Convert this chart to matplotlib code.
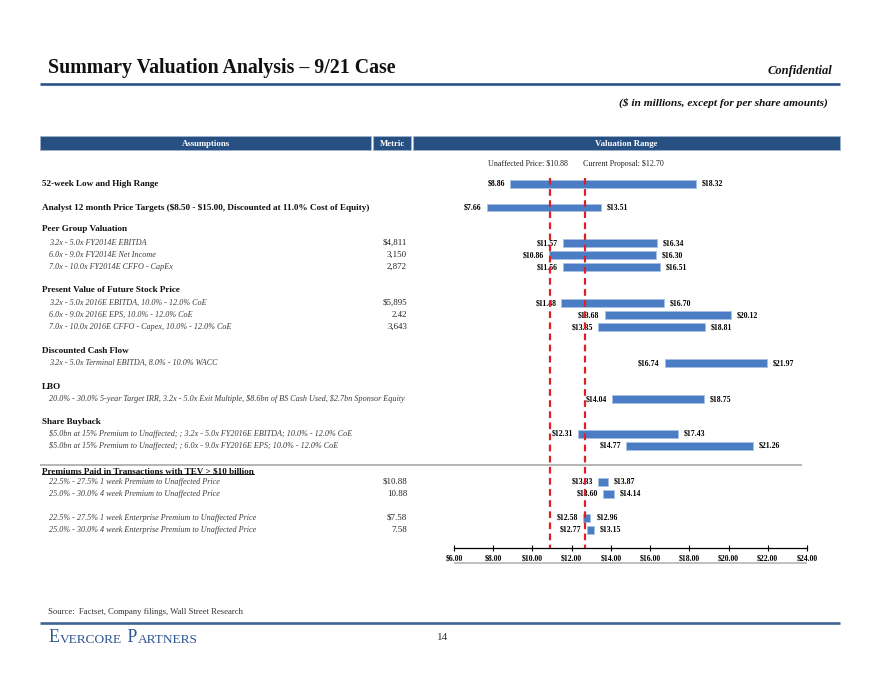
import matplotlib
matplotlib.use('Agg')
import matplotlib.pyplot as plt
from matplotlib.lines import Line2D
from matplotlib.patches import Rectangle
from matplotlib.text import Annotation

plt.rcParams['font.family'] = ['Liberation Serif', 'DejaVu Serif']
plt.rcParams['text.parse_math'] = False

# ---- data ----
sections = [
    '52-week Low and High Range',
    'Analyst 12 month Price Targets ($8.50 - $15.00, Discounted at 11.0% Cost of Equity)',
    'Peer Group Valuation',
    'Present Value of Future Stock Price',
    'Discounted Cash Flow',
    'LBO',
    'Share Buyback',
    'Premiums Paid in Transactions with TEV > $10 billion',
]
items = [
    None,
    None,
    '3.2x - 5.0x FY2014E EBITDA',
    '6.0x - 9.0x FY2014E Net Income',
    '7.0x - 10.0x FY2014E CFFO - CapEx',
    '3.2x - 5.0x 2016E EBITDA, 10.0% - 12.0% CoE',
    '6.0x - 9.0x 2016E EPS, 10.0% - 12.0% CoE',
    '7.0x - 10.0x 2016E CFFO - Capex, 10.0% - 12.0% CoE',
    '3.2x - 5.0x Terminal EBITDA, 8.0% - 10.0% WACC',
    '20.0% - 30.0% 5-year Target IRR, 3.2x - 5.0x Exit Multiple, $8.6bn of BS Cash Used, $2.7bn Sponsor Equity',
    '$5.0bn at 15% Premium to Unaffected; ; 3.2x - 5.0x FY2016E EBITDA; 10.0% - 12.0% CoE',
    '$5.0bn at 15% Premium to Unaffected; ; 6.0x - 9.0x FY2016E EPS; 10.0% - 12.0% CoE',
    '22.5% - 27.5% 1 week Premium to Unaffected Price',
    '25.0% - 30.0% 4 week Premium to Unaffected Price',
    '22.5% - 27.5% 1 week Enterprise Premium to Unaffected Price',
    '25.0% - 30.0% 4 week Enterprise Premium to Unaffected Price',
]
metrics = ['', '', '$4,811', '3,150', '2,872', '$5,895', '2.42', '3,643',
           '', '', '', '', '$10.88', '10.88', '$7.58', '7.58']
lows = [8.86, 7.66, 11.57, 10.86, 11.56, 11.48, 13.68, 13.35, 16.74, 14.04,
        12.31, 14.77, 13.33, 13.60, 12.58, 12.77]
highs = [18.32, 13.51, 16.34, 16.30, 16.51, 16.70, 20.12, 18.81, 21.97, 18.75,
         17.43, 21.26, 13.87, 14.14, 12.96, 13.15]
unaffected = 10.88
proposal = 12.70
ticks = [6, 8, 10, 12, 14, 16, 18, 20, 22, 24]

# ---- layout (pixel rows) ----
row_y = [184, 207.5, 243, 255, 267, 303, 315, 327, 363, 399, 434, 446, 482, 494, 518, 530]
head_y = [184, 207.5, 229, 290, 351, 387, 422, 471]

W, H = 880, 680
NAVY = '#264f82'
BAR = '#4a7dc4'
GREY_TXT = '#3c3c3c'


def fx(x):
    return x / W


def fy(y):
    return 1 - y / H


def hline(x0, x1, y, color, lw):
    fig.add_artist(Line2D([fx(x0), fx(x1)], [fy(y), fy(y)], color=color, lw=lw,
                          transform=fig.transFigure, solid_capstyle='butt'))


fig = plt.figure(figsize=(8.8, 6.8), dpi=100)

# page header
fig.text(fx(48), fy(68), 'Summary Valuation Analysis \u2013 9/21 Case', fontsize=14.3,
         fontweight='bold', va='center', ha='left', color='#111111')
fig.text(fx(832), fy(71), 'Confidential', fontsize=9, fontweight='bold', style='italic',
         va='center', ha='right', color='#111111')
hline(40, 840, 83.5, '#2b538a', 1.9)
fig.text(fx(828), fy(103), '($ in millions, except for per share amounts)', fontsize=8.2,
         fontweight='bold', style='italic', va='center', ha='right', color='#111111')

# table header boxes
for x0, x1, lab in [(40, 371, 'Assumptions'), (373, 411, 'Metric'), (413, 840, 'Valuation Range')]:
    fig.add_artist(Rectangle((fx(x0), fy(149.5)), (x1 - x0) / W, 13.5 / H,
                             facecolor=NAVY, edgecolor='#9fb2cc', lw=0.6,
                             transform=fig.transFigure))
    fig.text(fx((x0 + x1) / 2), fy(143.5), lab, color='white', fontsize=6.3,
             fontweight='bold', ha='center', va='center')

# left table text
head_texts = []
for name, y in zip(sections, head_y):
    t = fig.text(fx(42), fy(y), name, fontsize=6.55, fontweight='bold', ha='left',
                 va='center', color='#111111')
    head_texts.append(t)
for lab, met, y in zip(items, metrics, row_y):
    if lab:
        fig.text(fx(49), fy(y), lab, fontsize=5.85, style='italic', ha='left',
                 va='center', color=GREY_TXT)
    if met:
        fig.text(fx(407), fy(y), met, fontsize=6.4, ha='right', va='center',
                 color='#222222')

hline(40, 802, 464.5, '#a9a9a9', 1.2)

# chart
ax = fig.add_axes([fx(454), fy(548), (807 - 454) / W, (548 - 155) / H])
ax.set_xlim(6, 24)
ax.set_ylim(548, 155)
ax.patch.set_alpha(0)
widths = [h - l for l, h in zip(lows, highs)]
ax.barh(row_y, widths, left=lows, height=7.5, color=BAR, edgecolor='#a9c1e4',
        linewidth=0.7, zorder=2)
for lo, hi, y in zip(lows, highs, row_y):
    ax.annotate(f'${lo:.2f}', xy=(lo, y), xytext=(-3.6, 0), textcoords='offset points',
                ha='right', va='center', fontsize=5.6, fontweight='bold', zorder=1)
    ax.annotate(f'${hi:.2f}', xy=(hi, y), xytext=(4.2, 0), textcoords='offset points',
                ha='left', va='center', fontsize=5.6, fontweight='bold', zorder=1)

for v in (unaffected, proposal):
    ax.vlines(v, 178, 548, colors='#dd1f26', linewidth=1.6, linestyles=(0, (3, 2)), zorder=3)
ax.annotate(f'Unaffected Price: ${unaffected:.2f}', xy=(unaffected, 164), xytext=(13, 0),
            textcoords='offset points', ha='right', va='center', fontsize=5.8,
            color='#222222', annotation_clip=False)
ax.annotate(f'Current Proposal: ${proposal:.2f}', xy=(proposal, 164), xytext=(-1.5, 0),
            textcoords='offset points', ha='left', va='center', fontsize=5.8,
            color='#222222', annotation_clip=False)

for side in ('top', 'right', 'left'):
    ax.spines[side].set_visible(False)
ax.spines['bottom'].set_linewidth(0.9)
ax.set_yticks([])
ax.set_xticks(ticks)
ax.set_xticklabels([f'${t:.2f}' for t in ticks], fontsize=5.6, fontweight='bold')
ax.tick_params(axis='x', direction='inout', length=4, width=0.8, pad=2.5)

hline(454, 807, 562.5, '#b5b5b5', 1.2)

# footer
fig.text(fx(48), fy(612), 'Source:  Factset, Company filings, Wall Street Research',
         fontsize=6.2, ha='left', va='center', color='#333333')
hline(40, 840, 623, '#3f6597', 1.9)
fig.text(fx(443), fy(637), '14', fontsize=8, ha='center', va='center', color='#333333')

# small caps logo, pieces chained one after another
logo_col = '#2d5592'
last = fig.text(fx(48), fy(642), 'E', fontsize=12.8, color=logo_col, ha='left', va='baseline')
for piece, size in [('VERCORE', 9.6), (' P', 12.8), ('ARTNERS', 9.6)]:
    last = fig.add_artist(Annotation(
        piece, xy=(1, 0), xycoords=last, xytext=(0.6, 0), textcoords='offset points',
        fontsize=size, color=logo_col, ha='left', va='bottom'))

# underline the premiums header
fig.canvas.draw()
bb = head_texts[-1].get_window_extent(fig.canvas.get_renderer())
x0f, x1f = bb.x0 / fig.bbox.width, bb.x1 / fig.bbox.width
yf = (bb.y0 + 1) / fig.bbox.height
fig.add_artist(Line2D([x0f, x1f], [yf, yf], color='#111111', lw=0.7, transform=fig.transFigure))

fig.savefig('out.png', dpi=100)
